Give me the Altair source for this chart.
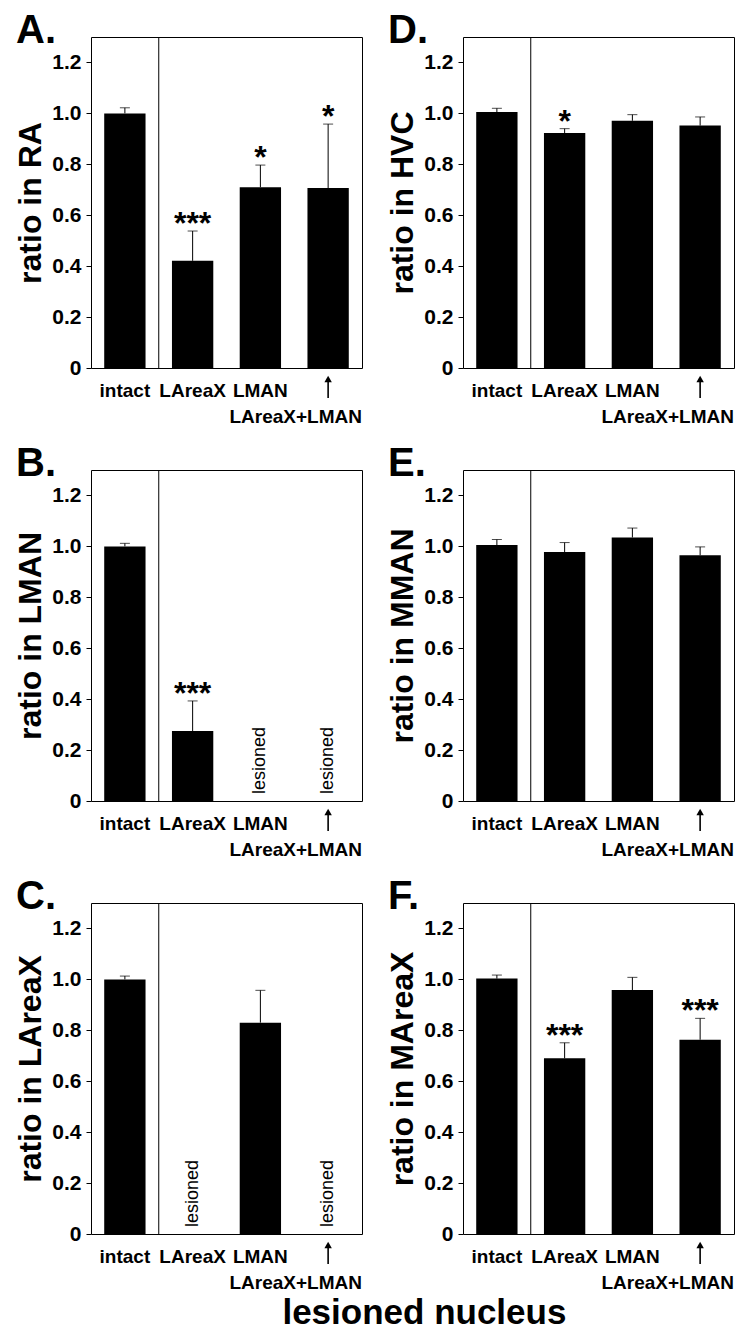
import altair as alt
import pandas as pd

FONT = "Liberation Sans"

categories = ["intact", "LAreaX", "LMAN", "LAreaX+LMAN"]

# Panel A: RA
ra_mean = [1.000, 0.421, 0.710, 0.707]
ra_sem = [0.022, 0.117, 0.087, 0.251]
ra_stars = ["", "***", "*", "*"]
ra_lesioned = ["", "", "", ""]

# Panel D: HVC
hvc_mean = [1.005, 0.923, 0.971, 0.952]
hvc_sem = [0.015, 0.017, 0.024, 0.034]
hvc_stars = ["", "*", "", ""]
hvc_lesioned = ["", "", "", ""]

# Panel B: LMAN
lman_mean = [1.000, 0.275, None, None]
lman_sem = [0.012, 0.118, None, None]
lman_stars = ["", "***", "", ""]
lman_lesioned = ["", "", "lesioned", "lesioned"]

# Panel E: MMAN
mman_mean = [1.005, 0.978, 1.035, 0.965]
mman_sem = [0.022, 0.037, 0.037, 0.033]
mman_stars = ["", "", "", ""]
mman_lesioned = ["", "", "", ""]

# Panel C: LAreaX
lareax_mean = [1.000, None, 0.830, None]
lareax_sem = [0.013, None, 0.127, None]
lareax_stars = ["", "", "", ""]
lareax_lesioned = ["", "lesioned", "", "lesioned"]

# Panel F: MAreaX
mareax_mean = [1.003, 0.690, 0.958, 0.763]
mareax_sem = [0.014, 0.061, 0.050, 0.084]
mareax_stars = ["", "***", "", "***"]
mareax_lesioned = ["", "", "", ""]

y_ticks = [0, 0.2, 0.4, 0.6, 0.8, 1.0, 1.2]
x_title = "lesioned nucleus"

W, H = 271, 331


def x_enc(band=None):
    kw = {}
    if band is not None:
        kw["bandPosition"] = band
    return alt.X(
        "cat:N",
        sort=categories,
        scale=alt.Scale(domain=categories, paddingInner=0, paddingOuter=0),
        axis=alt.Axis(
            title=None,
            labelExpr="datum.value == 'LAreaX+LMAN' ? '' : datum.value",
            labelFont=FONT, labelFontSize=19, labelFontWeight="bold",
            labelColor="black", labelAngle=0, labelPadding=13,
            labelOverlap=False, labelBound=False,
            ticks=False, tickSize=0, domain=False, grid=False,
        ),
        **kw,
    )


def y_axis(title):
    return alt.Axis(
        title=title, values=y_ticks,
        labelExpr="datum.value == 0 ? '0' : format(datum.value, '.1f')",
        labelFont=FONT, labelFontSize=21, labelFontWeight="bold",
        labelColor="black", labelPadding=5,
        tickColor="black", tickSize=5, tickWidth=1,
        domain=False, grid=False,
        titleFont=FONT, titleFontSize=32, titleFontWeight="bold",
        titleColor="black", titlePadding=4,
    )


def y_scale():
    return alt.Scale(domain=[0, 1.3], nice=False, zero=True)


def panel(letter, ytitle, mean, sem, stars, lesioned):
    tops = [m + s if (m is not None and s is not None) else None for m, s in zip(mean, sem)]
    df = pd.DataFrame({
        "cat": categories,
        "mean": mean,
        "top": tops,
        "star": stars,
        "lesion": lesioned,
        "zero": [0.0] * 4,
    })
    base = alt.Chart(df)
    yax = y_axis(ytitle)

    def Y(field):
        return alt.Y(field, type="quantitative", scale=y_scale(), axis=yax)

    valid = base.transform_filter("isValid(datum.mean)")

    bars = valid.mark_bar(color="black", width=alt.RelativeBandSize(0.61)).encode(
        x=x_enc(), y=Y("mean")
    )
    err = valid.mark_rule(color="black", strokeWidth=1).encode(
        x=x_enc(), y=Y("mean"), y2="top"
    )
    cap = valid.mark_tick(color="black", thickness=1, size=10).encode(
        x=x_enc(), y=Y("top")
    )
    star = valid.transform_filter("datum.star != ''").mark_text(
        font=FONT, fontSize=32, fontWeight="bold", color="black",
        baseline="alphabetic", align="center", dy=3,
    ).encode(x=x_enc(), y=Y("top"), text="star:N")
    les = base.transform_filter("datum.lesion != ''").mark_text(
        font=FONT, fontSize=18, color="black", angle=270,
        align="left", baseline="middle", dx=7,
    ).encode(x=x_enc(), y=Y("zero"), text="lesion:N")
    divider = base.transform_filter("datum.cat == 'LAreaX'").mark_rule(
        color="black", strokeWidth=1
    ).encode(
        x=x_enc(band=0),
        y=alt.YDatum(0, type="quantitative", scale=y_scale(), axis=yax),
        y2=alt.Y2Datum(1.3),
    )
    last = base.transform_filter("datum.cat == 'LAreaX+LMAN'")
    arrow_shaft = last.mark_rule(color="black", strokeWidth=1.6).encode(
        x=x_enc(), y=alt.value(H + 10), y2=alt.value(H + 30)
    )
    arrow_head = last.mark_point(
        shape="triangle-up", filled=True, color="black", size=55, opacity=1
    ).encode(x=x_enc(), y=alt.value(H + 11))
    last_label = last.mark_text(
        font=FONT, fontSize=19, fontWeight="bold", color="black",
        align="right", baseline="alphabetic",
    ).encode(x=x_enc(band=1), y=alt.value(H + 55), text="cat:N")

    return alt.layer(
        bars, err, cap, star, les, divider, arrow_shaft, arrow_head, last_label
    ).properties(
        width=W, height=H,
        title=alt.TitleParams(
            text=letter, anchor="start", frame="group", orient="top",
            font=FONT, fontSize=40, fontWeight="bold", color="black",
            baseline="alphabetic", offset=0, dx=-75, dy=46,
        ),
    )


pA = panel("A.", "ratio in RA", ra_mean, ra_sem, ra_stars, ra_lesioned)
pD = panel("D.", "ratio in HVC", hvc_mean, hvc_sem, hvc_stars, hvc_lesioned)
pB = panel("B.", "ratio in LMAN", lman_mean, lman_sem, lman_stars, lman_lesioned)
pE = panel("E.", "ratio in MMAN", mman_mean, mman_sem, mman_stars, mman_lesioned)
pC = panel("C.", "ratio in LAreaX", lareax_mean, lareax_sem, lareax_stars, lareax_lesioned)
pF = panel("F.", "ratio in MAreaX", mareax_mean, mareax_sem, mareax_stars, mareax_lesioned)

chart = alt.concat(
    pA, pD, pB, pE, pC, pF, columns=2,
    spacing={"row": 102, "column": 101}, bounds="flush",
    title=alt.TitleParams(
        text=x_title, orient="bottom", anchor="middle",
        font=FONT, fontSize=35, fontWeight="bold", color="black",
        offset=0, dx=50, dy=2,
    ),
).properties(
    padding={"left": 6, "top": 2, "right": 5, "bottom": 5},
    background="white",
).configure_view(
    stroke="black", strokeWidth=1
)

chart.save("out.html", embed_options={"renderer": "svg", "actions": False})
